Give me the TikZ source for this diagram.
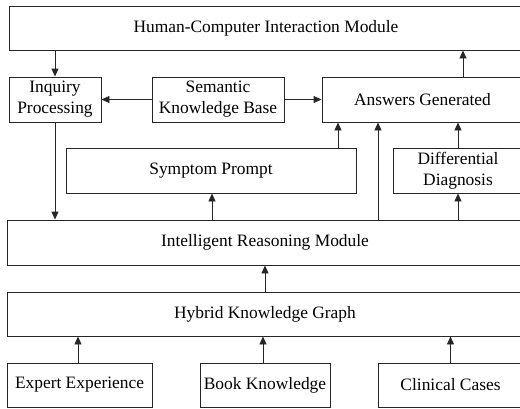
\documentclass[tikz,border=0pt]{standalone}
\usepackage{fontspec}
\setmainfont{Liberation Serif}
\usetikzlibrary{arrows.meta}
\begin{document}
\begin{tikzpicture}[x=1pt,y=-1pt,
  box/.style={draw=black!85, line width=0.9pt, inner sep=0pt, align=center,
    font=\fontsize{17.4}{21}\selectfont},
  arr/.style={draw=black!85, line width=0.9pt, -{Triangle[length=8pt,width=7pt]}},
  ln/.style={draw=black!85, line width=0.9pt}]
\useasboundingbox (0,0) rectangle (520,408);
\clip (0,0) rectangle (520,408);
% boxes
\node[box, minimum width=514, minimum height=44] (hci) at (266,28) {Human-Computer Interaction Module};
\node[box, minimum width=92, minimum height=45] (inq) at (55,99.5) {Inquiry\\Processing};
\node[box, minimum width=132, minimum height=45] (skb) at (218,99.5) {Semantic\\Knowledge Base};
\node[box, minimum width=201, minimum height=45] (ans) at (422.5,99.5) {Answers Generated};
\node[box, minimum width=290, minimum height=45] (sym) at (211,170.5) {Symptom Prompt};
\node[box, minimum width=130, minimum height=45] (dif) at (458,170.5) {Differential\\Diagnosis};
\node[box, minimum width=516, minimum height=45] (irm) at (265,242.5) {Intelligent Reasoning Module};
\node[box, minimum width=516, minimum height=44] (hkg) at (265,314) {Hybrid Knowledge Graph};
\node[box, minimum width=145, minimum height=44] (exp) at (79.5,385) {Expert Experience};
\node[box, minimum width=130, minimum height=44] (book) at (265,385) {Book Knowledge};
\node[box, minimum width=145, minimum height=44] (cli) at (450.5,385) {Clinical Cases};
% helper x positions
\coordinate (x463) at (463,0);
\coordinate (x338) at (338,0);
\coordinate (x378) at (378,0);
\coordinate (x212) at (212,0);
\coordinate (x263) at (263,0);
\coordinate (x78) at (78,0);
% connectors
\draw[arr] (inq.north |- hci.south) -- (inq.north);
\draw[arr] (x463 |- ans.north) -- (x463 |- hci.south);
\draw[arr] (skb.west) -- (inq.east);
\draw[arr] (skb.east) -- (ans.west);
\draw[arr] (inq.south) -- (inq.south |- irm.north);
\draw[arr] (x212 |- irm.north) -- (x212 |- sym.south);
\draw[arr] (x338 |- sym.north) -- (x338 |- ans.south);
\draw[arr] (x378 |- irm.north) -- (x378 |- ans.south);
\draw[arr] (dif.south |- irm.north) -- (dif.south);
\draw[arr] (dif.north) -- (dif.north |- ans.south);
\draw[arr] (hkg.north) -- (hkg.north |- irm.south);
\draw[arr] (x78 |- exp.north) -- (x78 |- hkg.south);
\draw[arr] (x263 |- book.north) -- (x263 |- hkg.south);
\draw[arr] (cli.north) -- (cli.north |- hkg.south);
\end{tikzpicture}
\end{document}
